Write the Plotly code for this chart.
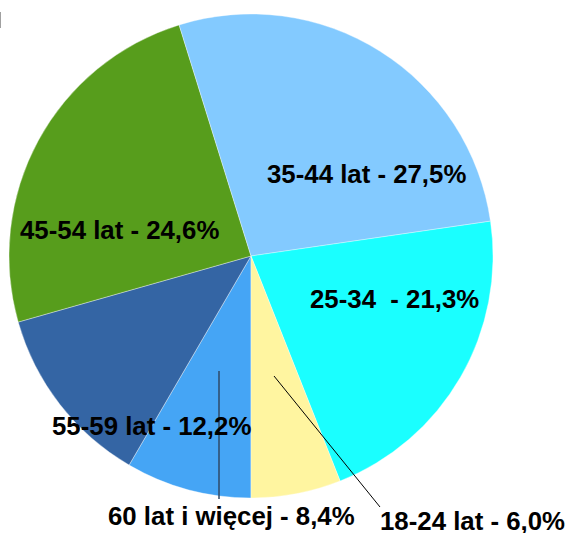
import plotly.graph_objects as go

categories = ["18-24 lat", "25-34 ", "35-44 lat", "45-54 lat", "55-59 lat", "60 lat i więcej"]
values = [6.0, 21.3, 27.5, 24.6, 12.2, 8.4]
colors = ["#FFF5A0", "#1AFFFF", "#83CAFF", "#579D1C", "#3465A4", "#45A5F5"]

W, H = 568, 533

def px(x, y):
    return x / W, 1 - y / H

labels_text = [f"{c} - {v:.1f}".replace(".", ",") + "%" for c, v in zip(categories, values)]
# label centre positions (pixels)
label_pos = [(472, 521), (394, 299), (366, 174), (119, 230), (151, 426), (231, 516)]

# slices run counter-clockwise from 6 o'clock in the reference; drawing the
# reversed order clockwise from 6 o'clock gives the same layout
fig = go.Figure(go.Pie(
    labels=categories[::-1],
    values=values[::-1],
    marker=dict(colors=colors[::-1], line=dict(color="rgba(255,255,255,0.6)", width=0.6)),
    sort=False,
    direction="clockwise",
    rotation=180,
    textinfo="none",
    hoverinfo="label+percent",
    showlegend=False,
    domain=dict(x=[9 / W, 493 / W], y=[1 - 498 / H, 1 - 14 / H]),
))

annotations = []
for t, (x, y) in zip(labels_text, label_pos):
    ax, ay = px(x, y)
    annotations.append(dict(
        text=f"<b>{t}</b>", x=ax, y=ay, xref="paper", yref="paper",
        xanchor="center", yanchor="middle", showarrow=False,
        font=dict(family="Liberation Sans, Arial, sans-serif", size=25.8, color="#000000"),
    ))

shapes = []
x0, y0 = px(219, 371); x1, y1 = px(219, 499)
shapes.append(dict(type="line", xref="paper", yref="paper", x0=x0, y0=y0, x1=x1, y1=y1,
                   line=dict(color="#2F4A66", width=1.5)))
x0, y0 = px(274, 376); x1, y1 = px(380, 507)
shapes.append(dict(type="line", xref="paper", yref="paper", x0=x0, y0=y0, x1=x1, y1=y1,
                   line=dict(color="#000000", width=1)))
x0, y0 = px(0.5, 12); x1, y1 = px(0.5, 28)
shapes.append(dict(type="line", xref="paper", yref="paper", x0=x0, y0=y0, x1=x1, y1=y1,
                   line=dict(color="#A0A0A0", width=1)))

fig.update_layout(
    width=W, height=H,
    margin=dict(l=0, r=0, t=0, b=0),
    paper_bgcolor="white", plot_bgcolor="white",
    annotations=annotations, shapes=shapes,
)

fig.write_html("out.html", config={"displayModeBar": False},
               post_script="document.body.style.margin='0';document.body.style.overflow='hidden';")
